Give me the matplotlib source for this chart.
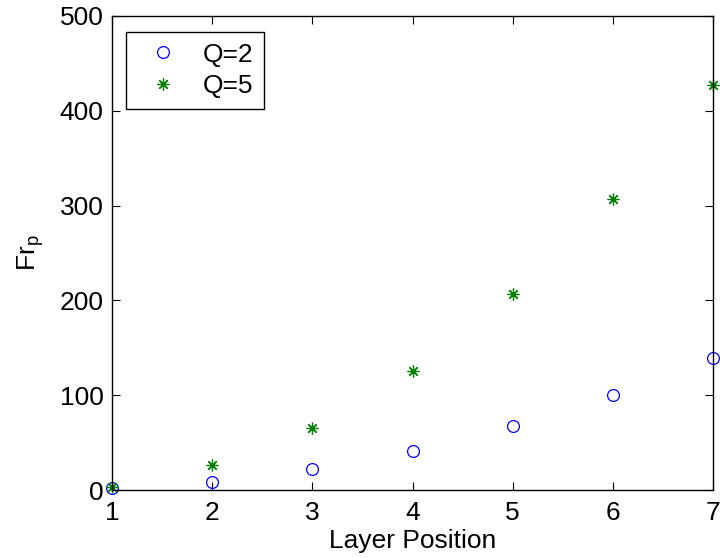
import numpy as np
import matplotlib
matplotlib.use("Agg")
import matplotlib.pyplot as plt

# values
layer = [1, 2, 3, 4, 5, 6, 7]
fr_q2 = [2, 8, 22, 41, 67, 100, 139]
fr_q5 = [3, 26, 65, 126, 207, 307, 427]

plt.rcParams['font.family'] = ['Liberation Sans', 'DejaVu Sans']

fig = plt.figure(figsize=(7.2, 5.58), dpi=100)
ax = fig.add_axes([112 / 720, 1 - 490 / 558, 601 / 720, 474 / 558])

ax.plot(layer, fr_q2, linestyle='none', marker='o', ms=8.5, mfc='none',
        mec='#0000ff', mew=0.9, label='Q=2', clip_on=False)
ax.plot(layer, fr_q5, linestyle='none', marker=(8, 2, 0), ms=8.5,
        mec='#008000', color='#008000', mew=0.9, label='Q=5', clip_on=False)

ax.set_xlim(1, 7)
ax.set_ylim(0, 500)
ax.set_xticks(layer)
ax.set_yticks([0, 100, 200, 300, 400, 500])
ax.tick_params(direction='in', top=True, right=True, labelsize=19, length=6, pad=8)
ax.tick_params(axis='y', pad=6)
for s in ax.spines.values():
    s.set_linewidth(1.0)

ax.set_xlabel('Layer Position', fontsize=19, labelpad=3)
ax.set_ylabel('Fr$_\\mathregular{p}$', fontsize=19, labelpad=10)

leg = ax.legend(loc='upper left', bbox_to_anchor=(14 / 601, 1 - 16 / 474),
                borderaxespad=0, fontsize=19, fancybox=False, edgecolor='black',
                framealpha=1, handlelength=2.0, handletextpad=0.5, labelspacing=0.3,
                borderpad=0.4)
leg.get_frame().set_linewidth(1.0)

fig.savefig('out.png', dpi=100)
